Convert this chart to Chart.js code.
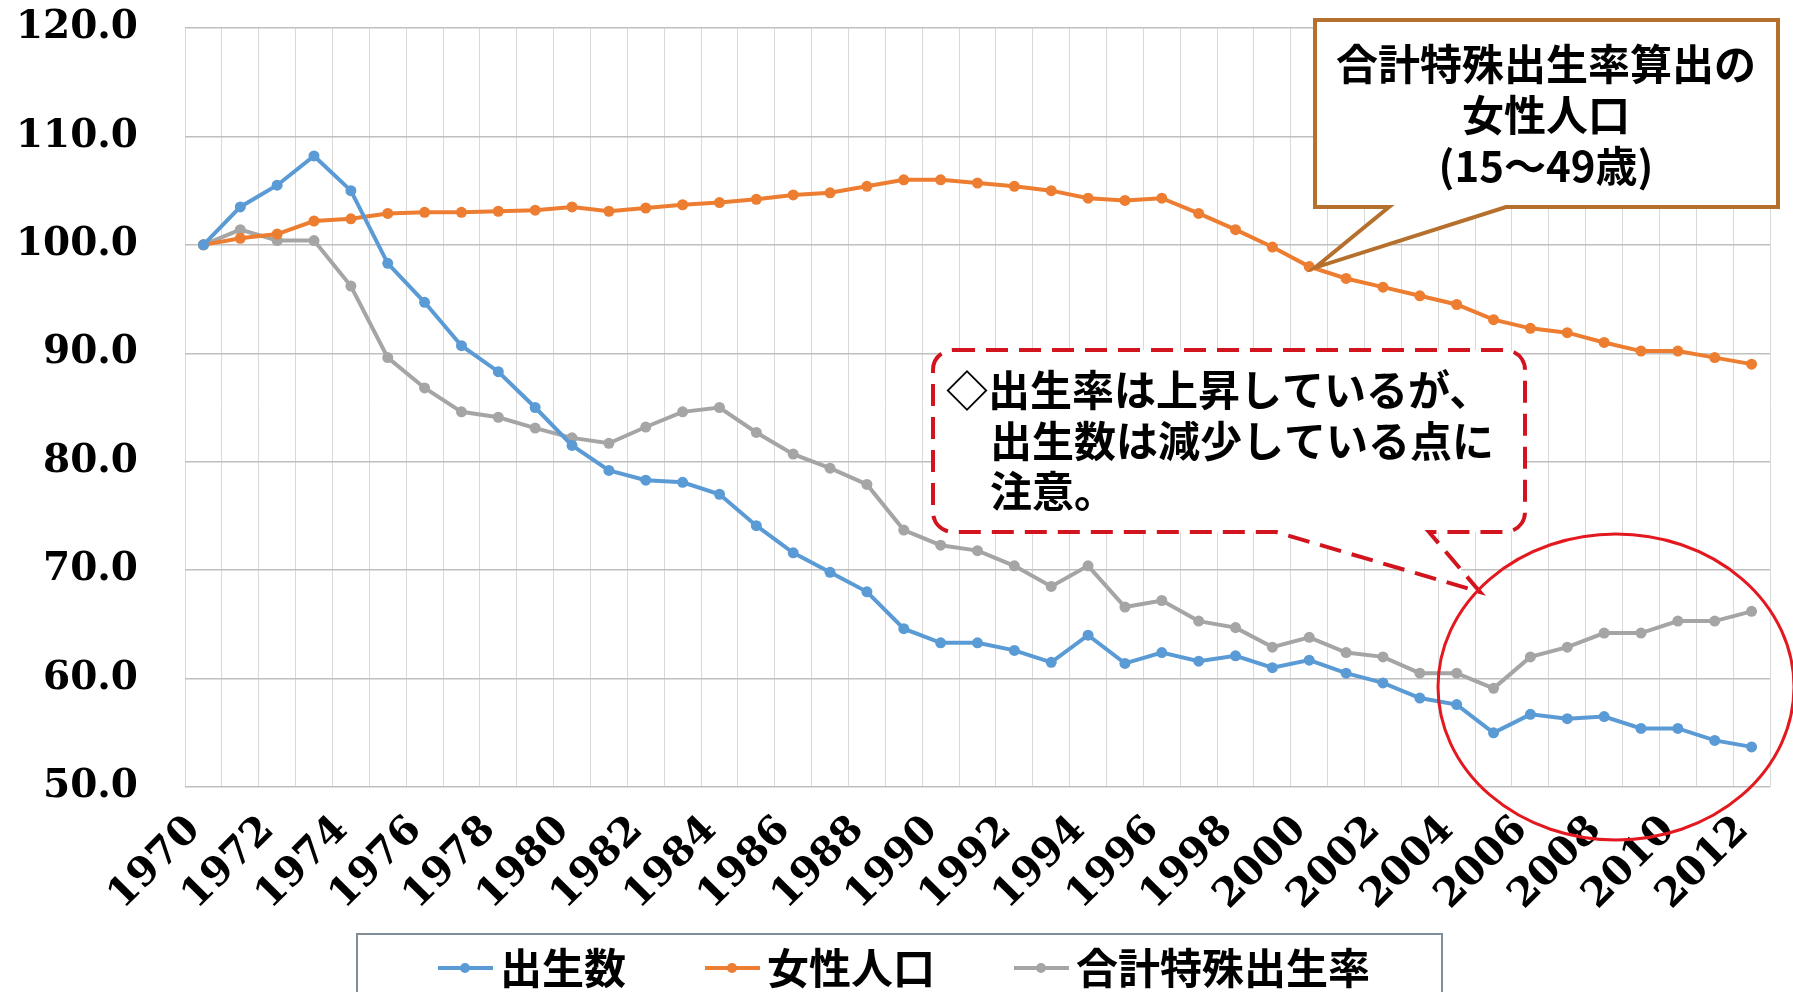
<!DOCTYPE html>
<html><head><meta charset="utf-8">
<script src="https://cdn.jsdelivr.net/npm/chart.js@4.4.1/dist/chart.umd.min.js"></script>
<style>html,body{margin:0;padding:0;background:#fff;}#wrap{width:1793px;height:992px;}</style>
</head><body><div id="wrap"><canvas id="c" width="1793" height="992"></canvas></div>
<script>
const years = [1970,1971,1972,1973,1974,1975,1976,1977,1978,1979,1980,1981,1982,1983,1984,1985,1986,1987,1988,1989,1990,1991,1992,1993,1994,1995,1996,1997,1998,1999,2000,2001,2002,2003,2004,2005,2006,2007,2008,2009,2010,2011,2012];
const births = [100,103.5,105.5,108.2,105.0,98.3,94.7,90.7,88.3,85.0, 81.5,79.2,78.3,78.1,77.0,74.1,71.6,69.8,68.0,64.6, 63.3,63.3,62.6,61.5,64.0,61.4,62.4,61.6,62.1,61.0, 61.7,60.5,59.6,58.2,57.6,55.0,56.7,56.3,56.5,55.4, 55.4,54.3,53.7];
const women = [100,100.6,101.0,102.2,102.4,102.9,103.0,103.0,103.1,103.2, 103.5,103.1,103.4,103.7,103.9,104.2,104.6,104.8,105.4,106.0, 106.0,105.7,105.4,105.0,104.3,104.1,104.3,102.9,101.4,99.8, 98.0,96.9,96.1,95.3,94.5,93.1,92.3,91.9,91.0,90.2, 90.2,89.6,89.0];
const tfr = [100,101.4,100.4,100.4,96.2,89.6,86.8,84.6,84.1,83.1, 82.2,81.7,83.2,84.6,85.0,82.7,80.7,79.4,77.9,73.7, 72.3,71.8,70.4,68.5,70.4,66.6,67.2,65.3,64.7,62.9, 63.8,62.4,62.0,60.5,60.5,59.1,62.0,62.9,64.2,64.2, 65.3,65.3,66.2];
const seriesNames = ['出生数','女性人口','合計特殊出生率'];
const seriesColors = ['#5B9BD5','#ED7D31','#A5A5A5'];
const yMin = 50, yMax = 120, yStep = 10;
const noteBrown = ['合計特殊出生率算出の','女性人口','(15～49歳)'];
const noteRed = ['◇出生率は上昇しているが、','出生数は減少している点に','注意。'];

function legendImg(color){
  const c = document.createElement('canvas'); c.width = 148; c.height = 14;
  const g = c.getContext('2d');
  g.strokeStyle = color; g.lineWidth = 4;
  g.beginPath(); g.moveTo(93,7); g.lineTo(148,7); g.stroke();
  g.fillStyle = color; g.beginPath(); g.arc(120,7,5,0,Math.PI*2); g.fill();
  return c;
}
const legendImgs = seriesColors.map(legendImg);

const notes = {
  id: 'notes',
  afterLayout(chart){
    const lg = chart.legend;
    if (!lg || !lg.lineWidths) return;
    const cur = (lg.left + lg.right - lg.lineWidths[0]) / 2;
    const d = 359 - cur;
    lg.left += d; lg.right += d;
    const dy = 947 - lg.top;
    lg.top += dy; lg.bottom += dy;
  },
  afterDatasetsDraw(chart){
    const ctx = chart.ctx, xs = chart.scales.x, ys = chart.scales.y;
    ctx.save();
    // red dashed callout
    const L=933,T=350,R=1525,B=532,r=20;
    ctx.beginPath();
    ctx.moveTo(L+r,T);
    ctx.lineTo(R-r,T); ctx.arcTo(R,T,R,T+r,r);
    ctx.lineTo(R,B-r); ctx.arcTo(R,B,R-r,B,r);
    ctx.lineTo(1429,B); ctx.lineTo(1480,592); ctx.lineTo(1276,B);
    ctx.lineTo(L+r,B); ctx.arcTo(L,B,L,B-r,r);
    ctx.lineTo(L,T+r); ctx.arcTo(L,T,L+r,T,r);
    ctx.closePath();
    ctx.fillStyle = '#fff'; ctx.fill();
    ctx.setLineDash([22,11]); ctx.lineWidth = 4; ctx.strokeStyle = '#D2141E'; ctx.stroke();
    ctx.setLineDash([]);
    ctx.fillStyle = '#000';
    ctx.font = 'bold 42px "Noto Sans CJK JP"';
    ctx.textAlign = 'left'; ctx.textBaseline = 'middle';
    ctx.fillText(noteRed[0], 946, 390);
    ctx.fillText(noteRed[1], 990, 441);
    ctx.fillText(noteRed[2], 990, 491);
    // brown callout
    const tipX = xs.getPixelForValue(30) + 6, tipY = ys.getPixelForValue(women[30]) + 1;
    ctx.beginPath();
    ctx.moveTo(1315,20); ctx.lineTo(1778,20); ctx.lineTo(1778,207);
    ctx.lineTo(1506,207); ctx.lineTo(tipX,tipY); ctx.lineTo(1389,207);
    ctx.lineTo(1315,207); ctx.closePath();
    ctx.fillStyle = '#fff'; ctx.fill();
    ctx.lineJoin = 'miter'; ctx.lineWidth = 4; ctx.strokeStyle = '#B5702D'; ctx.stroke();
    ctx.fillStyle = '#000'; ctx.textAlign = 'center';
    ctx.fillText(noteBrown[0], 1546, 64);
    ctx.fillText(noteBrown[1], 1546, 115);
    ctx.fillText(noteBrown[2], 1546, 166);
    // red ellipse
    ctx.beginPath();
    ctx.ellipse(1616, 687, 178, 153, 0, 0, Math.PI*2);
    ctx.lineWidth = 3; ctx.strokeStyle = '#E3191F'; ctx.stroke();
    // legend frame
    ctx.lineWidth = 2; ctx.strokeStyle = '#7F8E98';
    ctx.strokeRect(357, 934, 1085, 100);
    ctx.restore();
  }
};

const mk = (i, data) => ({
  label: seriesNames[i], data: data,
  borderColor: seriesColors[i], backgroundColor: seriesColors[i],
  pointBackgroundColor: seriesColors[i], pointBorderColor: seriesColors[i],
  borderWidth: 4, pointRadius: 5.5, pointBorderWidth: 0, pointStyle: 'circle',
  tension: 0, fill: false
});

new Chart(document.getElementById('c'), {
  type: 'line',
  data: { labels: years.map(String), datasets: [mk(0,births), mk(1,women), mk(2,tfr)] },
  options: {
    responsive: false, animation: false, devicePixelRatio: 1, events: [],
    layout: { autoPadding: false, padding: { left: 0, right: 23, top: 28, bottom: 0 } },
    plugins: {
      tooltip: { enabled: false },
      legend: {
        position: 'bottom',
        labels: {
          usePointStyle: true, pointStyleWidth: 120, padding: 0,
          color: '#000',
          font: { family: '"Noto Sans CJK JP"', size: 42, weight: 'bold' },
          generateLabels(chart){
            return Chart.defaults.plugins.legend.labels.generateLabels(chart)
              .map(l => Object.assign(l, { pointStyle: legendImgs[l.datasetIndex] }));
          },
          sort: (a,b) => a.datasetIndex - b.datasetIndex
        }
      }
    },
    scales: {
      x: {
        offset: true,
        grid: { offset: true, color: '#D9D9D9', lineWidth: 1, drawTicks: false },
        border: { display: false },
        ticks: {
          autoSkip: false, minRotation: 45, maxRotation: 45,
          padding: 20, labelOffset: -9, color: '#000',
          font: { family: '"DejaVu Serif"', size: 40, weight: 'bold' },
          callback: (v, i) => (i % 2 === 0 ? String(years[i]) : '')
        },
        afterFit(s){ s.height = 153; s.paddingLeft = 0; s.paddingRight = 0; s.paddingTop = 0; s.paddingBottom = 0; }
      },
      y: {
        min: yMin, max: yMax,
        grid: { color: '#BFBFBF', lineWidth: 1.5, drawTicks: false },
        border: { display: false },
        ticks: {
          stepSize: yStep, padding: 47, color: '#000',
          font: { family: '"DejaVu Serif"', size: 39, weight: 'bold' },
          callback: v => Number(v).toFixed(1)
        },
        afterFit(s){ s.width = 185; s.paddingLeft = 0; s.paddingRight = 0; s.paddingTop = 0; s.paddingBottom = 0; }
      }
    }
  },
  plugins: [notes]
});
</script>
</body></html>
